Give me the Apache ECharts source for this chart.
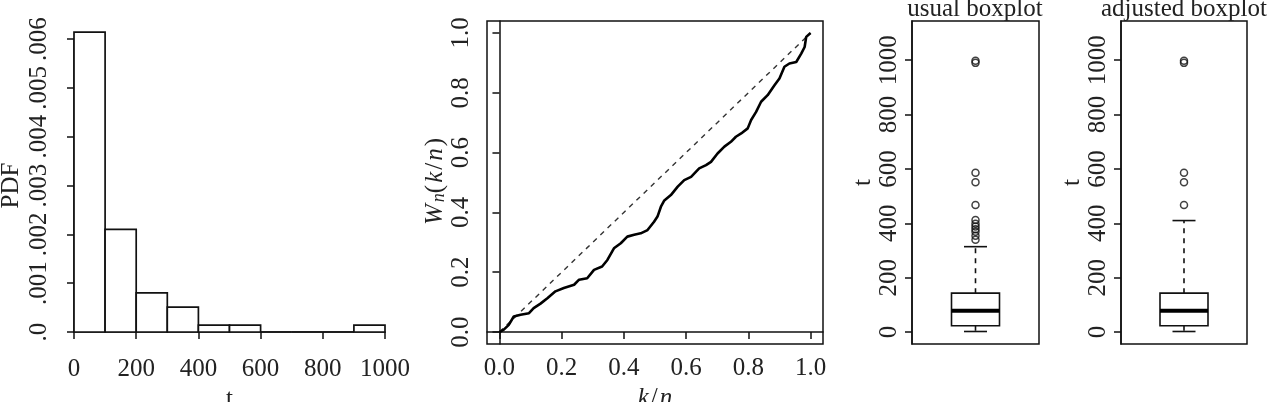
<!DOCTYPE html>
<html>
<head>
<meta charset="utf-8">
<script src="https://cdn.jsdelivr.net/npm/echarts@6/dist/echarts.min.js"></script>
<style>
html,body{margin:0;padding:0;background:#fff;}
#chart{width:1273px;height:402px;}
</style>
</head>
<body>
<div id="chart"></div>
<script>
// ---------- DATA ----------
// Histogram
const histBinStart = [0, 100, 200, 300, 400, 500, 600, 700, 800, 900];
const histBinEnd   = [100, 200, 300, 400, 500, 600, 700, 800, 900, 1000];
const histDensity  = [0.00614, 0.00210, 0.00080, 0.00051, 0.00014, 0.00014, 0, 0, 0, 0.00014];
const histXTicks   = [0, 200, 400, 600, 800, 1000];
const histYTicks   = [0, 0.001, 0.002, 0.003, 0.004, 0.005, 0.006];
const histYLabels  = ['.0', '.001', '.002', '.003', '.004', '.005', '.006'];

// W_n(k/n) curve
const kn = [0, 0.014, 0.03, 0.046, 0.068, 0.095, 0.11, 0.132, 0.154, 0.18, 0.207, 0.24, 0.256, 0.282,
  0.304, 0.33, 0.347, 0.368, 0.39, 0.411, 0.433, 0.454, 0.476, 0.497, 0.508, 0.519, 0.53, 0.551,
  0.573, 0.594, 0.616, 0.642, 0.664, 0.68, 0.701, 0.723, 0.744, 0.76, 0.777, 0.798, 0.809, 0.825,
  0.841, 0.862, 0.884, 0.9, 0.916, 0.932, 0.954, 0.97, 0.981, 0.986, 1.0];
const wn = [0, 0.008, 0.024, 0.052, 0.058, 0.063, 0.08, 0.095, 0.113, 0.136, 0.147, 0.158, 0.175, 0.18,
  0.208, 0.219, 0.241, 0.28, 0.297, 0.319, 0.325, 0.33, 0.341, 0.369, 0.386, 0.419, 0.44, 0.458,
  0.486, 0.508, 0.519, 0.547, 0.558, 0.569, 0.597, 0.62, 0.636, 0.653, 0.664, 0.681, 0.709, 0.736,
  0.77, 0.792, 0.825, 0.848, 0.887, 0.898, 0.903, 0.931, 0.953, 0.987, 1.0];
const diagX = [0, 1];
const diagY = [0, 1];
const unitTicks = [0, 0.2, 0.4, 0.6, 0.8, 1.0];

// Boxplots: [lower whisker, Q1, median, Q3, upper whisker]
const usualStats = [2, 23, 78, 143, 314];
const usualOutliers = [339, 354, 369, 378, 388, 398, 412, 467, 551, 586, 990, 998];
const adjustedStats = [2, 23, 78, 143, 410];
const adjustedOutliers = [467, 551, 586, 990, 998];
const boxTicks = [0, 200, 400, 600, 800, 1000];

// ---------- STYLE ----------
const FONT = '"Liberation Serif", "DejaVu Serif", serif';
const FS = 25;
const TXT = '#222';
const LINE = '#111';

const chart = echarts.init(document.getElementById('chart'), null, {renderer: 'canvas'});

function axisCommon(extra) {
  return Object.assign({
    splitLine: {show: false},
    axisLine: {show: true, lineStyle: {color: LINE, width: 1.5}},
    axisTick: {show: true, length: 7, lineStyle: {color: LINE, width: 1.5}},
    axisLabel: {color: TXT, fontFamily: FONT, fontSize: FS},
    nameTextStyle: {color: TXT, fontFamily: FONT, fontSize: FS}
  }, extra);
}

const histData = histBinStart.map((s, i) => [s, histBinEnd[i], histDensity[i]]);
const curveData = kn.map((x, i) => [x, wn[i]]);
const diagData = diagX.map((x, i) => [x, diagY[i]]);

function boxRender(params, api) {
  const x = api.value(0);
  const lo = api.coord([x, api.value(1)]);
  const q1 = api.coord([x, api.value(2)]);
  const md = api.coord([x, api.value(3)]);
  const q3 = api.coord([x, api.value(4)]);
  const hi = api.coord([x, api.value(5)]);
  const hw = 24, cw = 11.5, cx = lo[0];
  const s = {stroke: LINE, lineWidth: 1.6, fill: null};
  return {
    type: 'group',
    children: [
      {type: 'line', shape: {x1: cx, y1: q3[1], x2: cx, y2: hi[1]}, style: Object.assign({lineDash: [5, 5]}, s)},
      {type: 'line', shape: {x1: cx, y1: q1[1], x2: cx, y2: lo[1]}, style: Object.assign({lineDash: [5, 5]}, s)},
      {type: 'line', shape: {x1: cx - cw, y1: hi[1], x2: cx + cw, y2: hi[1]}, style: s},
      {type: 'line', shape: {x1: cx - cw, y1: lo[1], x2: cx + cw, y2: lo[1]}, style: s},
      {type: 'rect', shape: {x: cx - hw, y: q3[1], width: 2 * hw, height: q1[1] - q3[1]}, style: {stroke: LINE, lineWidth: 1.6, fill: '#fff'}},
      {type: 'line', shape: {x1: cx - hw, y1: md[1], x2: cx + hw, y2: md[1]}, style: {stroke: '#000', lineWidth: 4}}
    ]
  };
}

const plain = v => String(v);

const option = {
  animation: false,
  backgroundColor: '#fff',
  title: [
    {text: 'usual boxplot', left: 975, top: -3, padding: 0, textAlign: 'center',
     textStyle: {fontFamily: FONT, fontSize: FS, fontWeight: 'normal', color: TXT}},
    {text: 'adjusted boxplot', left: 1184, top: -3, padding: 0, textAlign: 'center',
     textStyle: {fontFamily: FONT, fontSize: FS, fontWeight: 'normal', color: TXT}}
  ],
  grid: [
    {left: 74, top: 39, width: 311, height: 293, outerBoundsMode: 'none', containLabel: false},
    {left: 487, top: 21, width: 336, height: 323, show: true, borderColor: LINE, borderWidth: 1.5, outerBoundsMode: 'none', containLabel: false},
    {left: 912, top: 21, width: 127, height: 323, show: true, borderColor: LINE, borderWidth: 1.5, outerBoundsMode: 'none', containLabel: false},
    {left: 1121, top: 21, width: 126, height: 323, show: true, borderColor: LINE, borderWidth: 1.5, outerBoundsMode: 'none', containLabel: false}
  ],
  xAxis: [
    axisCommon({gridIndex: 0, type: 'value', min: 0, max: 1000, offset: 13,
      axisTick: {show: true, length: 7, customValues: histXTicks, lineStyle: {color: LINE, width: 1.5}},
      axisLabel: {color: TXT, fontFamily: FONT, fontSize: FS, margin: 12, customValues: histXTicks, formatter: plain},
      name: 't', nameLocation: 'middle', nameGap: 36}),
    axisCommon({gridIndex: 1, type: 'value', min: -0.04, max: 1.04,
      axisTick: {show: true, length: 7, customValues: unitTicks, lineStyle: {color: LINE, width: 1.5}},
      axisLabel: {color: TXT, fontFamily: FONT, fontSize: FS, margin: 12, customValues: unitTicks,
        formatter: v => v.toFixed(1)},
      name: '{i|k}/{i|n}', nameLocation: 'middle', nameGap: 37,
      nameTextStyle: {color: TXT, fontFamily: FONT, fontSize: FS, rich: {i: {fontStyle: 'italic', fontFamily: FONT, fontSize: FS, color: TXT, padding: [0, 2, 0, 2]}}}}),
    {gridIndex: 2, type: 'value', min: 0, max: 2, show: false},
    {gridIndex: 3, type: 'value', min: 0, max: 2, show: false}
  ],
  yAxis: [
    axisCommon({gridIndex: 0, type: 'value', min: 0, max: 0.006, offset: 12,
      axisTick: {show: true, length: 7, customValues: histYTicks, lineStyle: {color: LINE, width: 1.5}},
      axisLabel: {color: TXT, fontFamily: FONT, fontSize: FS, margin: 10, rotate: 90, customValues: histYTicks,
        formatter: v => histYLabels[Math.round(v * 1000)]},
      name: 'PDF', nameLocation: 'middle', nameGap: 38, nameRotate: 90}),
    axisCommon({gridIndex: 1, type: 'value', min: -0.04, max: 1.04,
      axisTick: {show: true, length: 7, customValues: unitTicks, lineStyle: {color: LINE, width: 1.5}},
      axisLabel: {color: TXT, fontFamily: FONT, fontSize: FS, margin: 13, rotate: 90, customValues: unitTicks,
        formatter: v => v.toFixed(1)},
      name: '{i|W}{s|n}({i|k}/{i|n})', nameLocation: 'middle', nameGap: 38, nameRotate: 90,
      nameTextStyle: {color: TXT, fontFamily: FONT, fontSize: FS,
        rich: {i: {fontStyle: 'italic', fontFamily: FONT, fontSize: FS, color: TXT, padding: [0, 2, 0, 2]},
               s: {fontStyle: 'italic', fontFamily: FONT, fontSize: 18, color: TXT, verticalAlign: 'bottom', padding: [8, 0, 0, 0]}}}}),
    axisCommon({gridIndex: 2, type: 'value', min: -44, max: 1144,
      axisTick: {show: true, length: 7, customValues: boxTicks, lineStyle: {color: LINE, width: 1.5}},
      axisLabel: {color: TXT, fontFamily: FONT, fontSize: FS, margin: 10, rotate: 90, customValues: boxTicks, formatter: plain},
      name: 't', nameLocation: 'middle', nameGap: 36, nameRotate: 90}),
    axisCommon({gridIndex: 3, type: 'value', min: -44, max: 1144,
      axisTick: {show: true, length: 7, customValues: boxTicks, lineStyle: {color: LINE, width: 1.5}},
      axisLabel: {color: TXT, fontFamily: FONT, fontSize: FS, margin: 10, rotate: 90, customValues: boxTicks, formatter: plain},
      name: 't', nameLocation: 'middle', nameGap: 36, nameRotate: 90})
  ],
  series: [
    {type: 'custom', xAxisIndex: 0, yAxisIndex: 0, clip: false, data: histData,
     encode: {x: [0, 1], y: 2},
     renderItem: function (params, api) {
       const p1 = api.coord([api.value(0), api.value(2)]);
       const p2 = api.coord([api.value(1), 0]);
       return {type: 'rect', shape: {x: p1[0], y: p1[1], width: p2[0] - p1[0], height: p2[1] - p1[1]},
               style: {fill: '#fff', stroke: LINE, lineWidth: 1.7}};
     }},
    {type: 'line', xAxisIndex: 1, yAxisIndex: 1, data: diagData, showSymbol: false, silent: true,
     lineStyle: {color: '#333', width: 1.4, type: [5, 5]}},
    {type: 'line', xAxisIndex: 1, yAxisIndex: 1, data: curveData, showSymbol: false, silent: true,
     lineStyle: {color: '#000', width: 2.6}},
    {type: 'custom', xAxisIndex: 2, yAxisIndex: 2, data: [[1].concat(usualStats)], renderItem: boxRender},
    {type: 'custom', xAxisIndex: 3, yAxisIndex: 3, data: [[1].concat(adjustedStats)], renderItem: boxRender},
    {type: 'scatter', xAxisIndex: 2, yAxisIndex: 2, data: usualOutliers.map(v => [1, v]), symbol: 'circle', symbolSize: 7,
     itemStyle: {color: 'rgba(0,0,0,0)', borderColor: LINE, borderWidth: 1.5}},
    {type: 'scatter', xAxisIndex: 3, yAxisIndex: 3, data: adjustedOutliers.map(v => [1, v]), symbol: 'circle', symbolSize: 7,
     itemStyle: {color: 'rgba(0,0,0,0)', borderColor: LINE, borderWidth: 1.5}}
  ]
};
chart.setOption(option);
</script>
</body>
</html>
